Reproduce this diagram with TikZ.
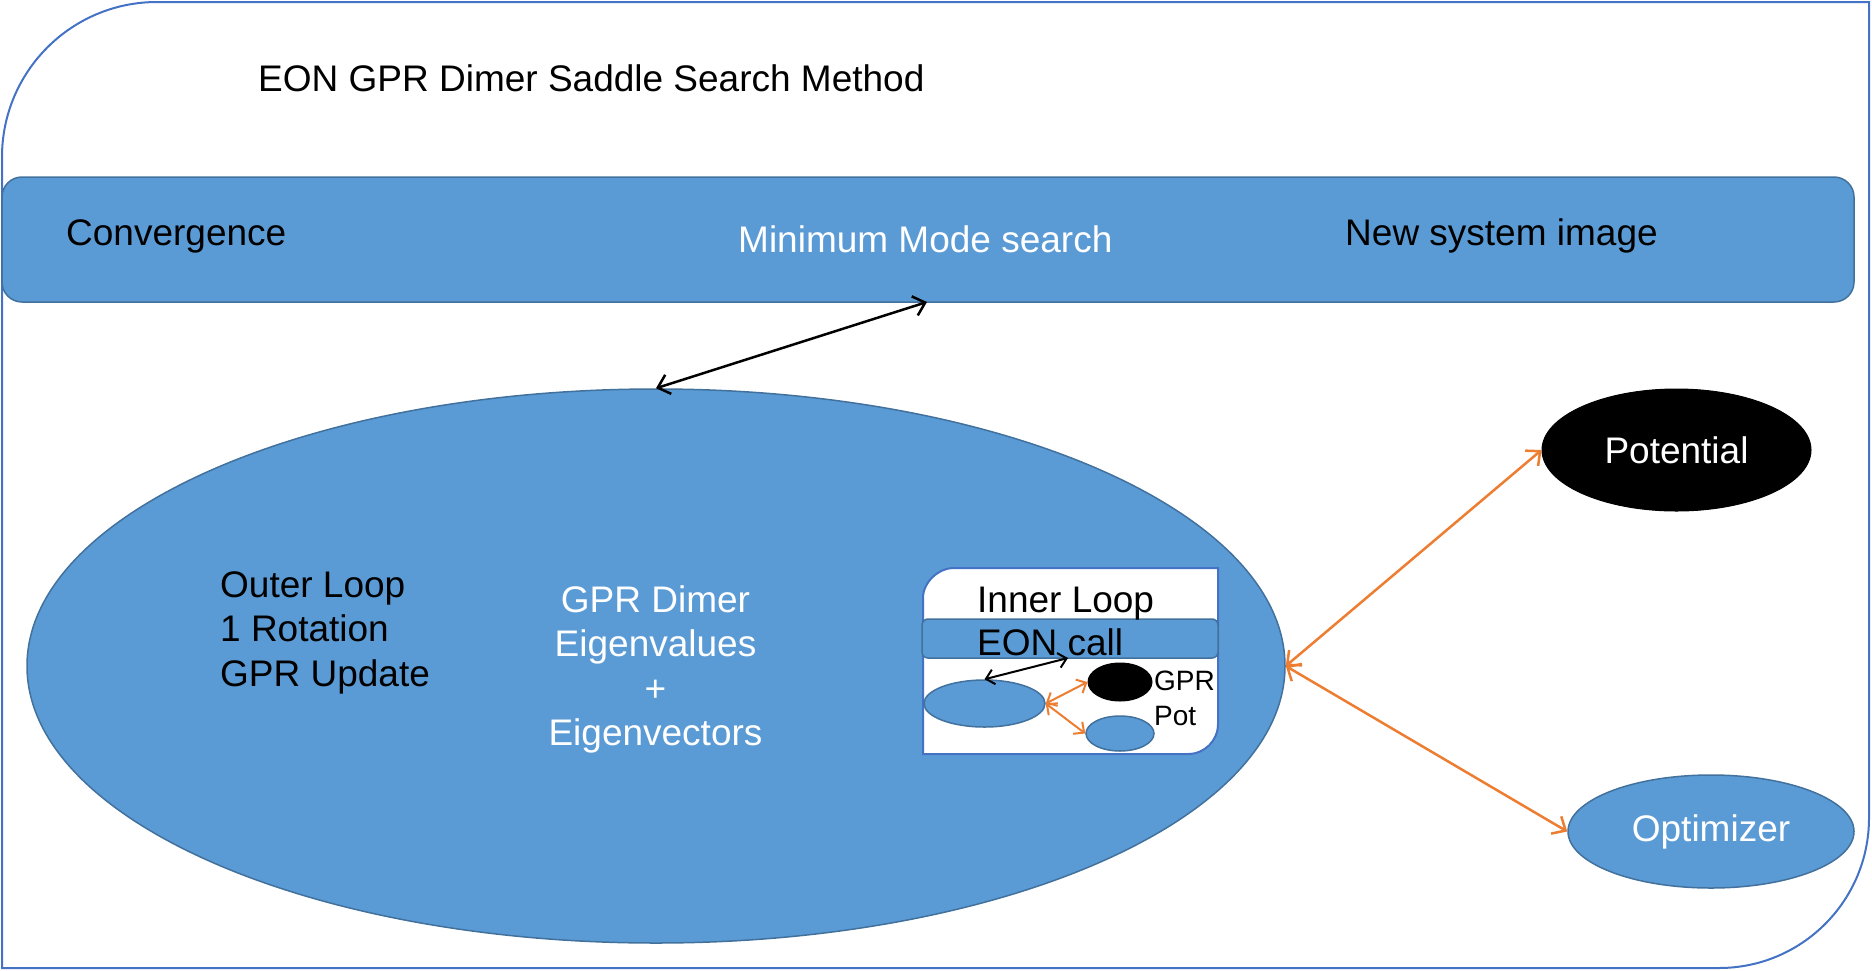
\documentclass[tikz,border=0pt]{standalone}
\usepackage{fontspec}
\setmainfont{Liberation Sans}
\usetikzlibrary{arrows.meta,shapes.geometric}
\definecolor{fillblue}{HTML}{5B9BD5}
\definecolor{edgeblue}{HTML}{41719C}
\definecolor{frameblue}{HTML}{4472C4}
\definecolor{arrorange}{HTML}{ED7D31}
\newcommand\tfont{\fontsize{37}{44.5}\selectfont}
\newcommand\sfont{\fontsize{28}{34}\selectfont}
\begin{document}
\begin{tikzpicture}[x=1pt,y=-1pt,
  blueell/.style={ellipse, fill=fillblue, draw=edgeblue, line width=1.5pt, inner sep=0pt},
  blackell/.style={ellipse, fill=black, draw=black, line width=1pt, inner sep=0pt},
  bluebar/.style={rectangle, fill=fillblue, draw=edgeblue, line width=1.5pt, inner sep=0pt},
  frameline/.style={draw=frameblue, line width=2pt},
  lbl/.style={inner sep=0pt, font=\tfont},
  slbl/.style={inner sep=0pt, font=\sfont},
  blackarrow/.style={draw=black, line width=2.5pt, {Straight Barb[length=11pt,width=20pt]}-{Straight Barb[length=11pt,width=20pt]}},
  orangearrow/.style={draw=arrorange, line width=2.5pt, {Straight Barb[length=11pt,width=20pt]}-{Straight Barb[length=11pt,width=20pt]}},
  sblackarrow/.style={draw=black, line width=2pt, {Straight Barb[length=8pt,width=15pt]}-{Straight Barb[length=8pt,width=15pt]}},
  sorangearrow/.style={draw=arrorange, line width=2pt, {Straight Barb[length=8pt,width=15pt]}-{Straight Barb[length=8pt,width=15pt]}}
]
\useasboundingbox (0,0) rectangle (1872,970);
% outer frame
\draw[frameline] (2,968) -- (2,157) .. controls (2,71.4) and (71.4,2) .. (157,2)
  -- (1869,2) -- (1869,818) .. controls (1869,900.8) and (1801.8,968) .. (1719,968) -- cycle;
% top bar
\node[bluebar, rounded corners=20pt, minimum width=1852pt, minimum height=125pt] (bar) at (928,239.5) {};
\coordinate (barpt) at (927,302);
% big ellipse
\node[blueell, minimum width=1258pt, minimum height=554pt] (bigell) at (656,666) {};
% potential and optimizer
\node[blackell, minimum width=269pt, minimum height=122pt, text=white, font=\tfont] (pot) at (1676.5,450) {Potential};
\node[blueell, minimum width=286pt, minimum height=113pt, text=white, font=\tfont] (opt) at (1711,831.5) {Optimizer};
% inner loop box
\node[inner sep=0pt, minimum width=295pt, minimum height=186pt] (ibox) at (1070.5,661) {};
\draw[draw=frameblue, fill=white, line width=2pt] (923,754) -- (923,598) .. controls (923,581.4) and (939.6,568) .. (953,568)
  -- (1218,568) -- (1218,724) .. controls (1218,740.6) and (1204.6,754) .. (1188,754) -- cycle;
\node[bluebar, rounded corners=6pt, minimum width=296pt, minimum height=39pt] (eonbar) at (1070,638.5) {};
\coordinate (eonpt) at (1068,658);
\node[blueell, minimum width=121pt, minimum height=47pt] (lsm) at (984.5,703.5) {};
\node[blackell, minimum width=64pt, minimum height=38pt] (gprell) at (1120,682) {};
\node[blueell, minimum width=68pt, minimum height=35pt] (potell) at (1120,733.5) {};
% arrows
\draw[blackarrow] (bigell.north) -- (barpt);
\draw[orangearrow] (bigell.east) -- (pot.west);
\draw[orangearrow] (bigell.east) -- (opt.west);
\draw[sorangearrow] (lsm.east) -- (gprell.west);
\draw[sorangearrow] (lsm.east) -- (potell.west);
% texts
\node[lbl, anchor=base west] (title) at (258,91) {EON GPR Dimer Saddle Search Method};
\node[lbl, anchor=base west] (conv) at (66,245) {Convergence};
\node[lbl, anchor=base west, text=white] (mms) at (738,252) {Minimum Mode search};
\node[lbl, anchor=base west] (nsi) at (1345,245) {New system image};
\node[lbl, anchor=base west, align=left] (outer) at (220,686) {Outer Loop\\1 Rotation\\GPR Update};
\node[lbl, anchor=base, align=center, text=white] (dimer) at (655.5,745.5) {GPR Dimer\\Eigenvalues\\+\\Eigenvectors};
\node[lbl, anchor=base west] (inner) at (977,612) {Inner Loop};
\node[lbl, anchor=base west] (eoncall) at (977,655) {EON call};
\node[slbl, anchor=base west] (gprtxt) at (1154,690) {GPR};
\node[slbl, anchor=base west] (pottxt) at (1154,725) {Pot};
\draw[sblackarrow] (lsm.north) -- (eonpt);
\end{tikzpicture}
\end{document}
